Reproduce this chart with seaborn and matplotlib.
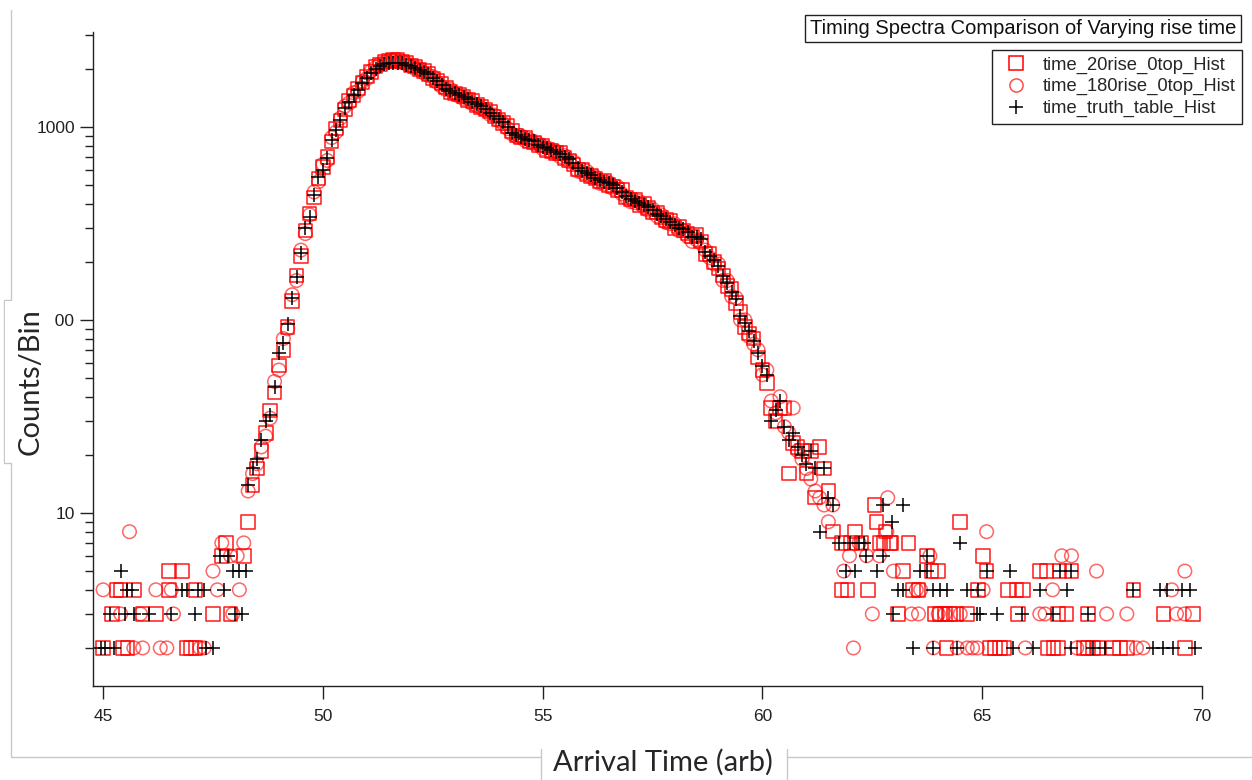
import matplotlib
matplotlib.use("Agg")
import numpy as np
import pandas as pd
import matplotlib.pyplot as plt
from matplotlib.lines import Line2D
from matplotlib.patches import Rectangle
from matplotlib.ticker import FixedLocator, LogLocator, NullFormatter, FuncFormatter
import seaborn as sns

# ---------------- data ----------------
bin_start = 48.3
bin_width = 0.1

# dense part of the spectrum, one value per 0.1 bin from 48.3 to 61.6
truth_counts = [
    14, 17, 19, 24, 30, 32, 45, 67, 76, 95,
    130, 167, 222, 300, 340, 445, 550, 600, 690, 860,
    965, 1090, 1250, 1350, 1470, 1550, 1690, 1800, 1900, 2000,
    2060, 2110, 2140, 2150, 2140, 2130, 2100, 2060, 2020, 1970,
    1930, 1870, 1800, 1720, 1650, 1570, 1540, 1500, 1460, 1420,
    1390, 1340, 1310, 1280, 1240, 1180, 1140, 1100, 1060, 1000,
    930, 910, 890, 870, 855, 840, 810, 790, 775, 760,
    740, 720, 700, 680, 650, 610, 590, 575, 560, 545,
    530, 520, 510, 500, 480, 460, 440, 425, 415, 405,
    395, 385, 370, 355, 345, 335, 320, 310, 300, 295,
    285, 268, 268, 262, 225, 215, 205, 190, 168, 155,
    140, 128, 105, 96, 88, 78, 67, 58, 52, 30,
    34, 38, 28, 24, 26, 22, 20, 18, 21, 17,
    8, 17, 12, 11,
]
rise20_counts = [
    9, 14, 17, 21, 26, 34, 42, 58, 70, 92,
    125, 170, 215, 290, 355, 430, 540, 620, 700, 840,
    980, 1080, 1230, 1370, 1450, 1580, 1700, 1820, 1930, 2050,
    2100, 2180, 2200, 2220, 2230, 2180, 2150, 2080, 2050, 1980,
    1950, 1880, 1780, 1740, 1680, 1600, 1520, 1490, 1470, 1440,
    1380, 1360, 1300, 1270, 1230, 1200, 1130, 1090, 1050, 1010,
    950, 900, 880, 880, 840, 830, 800, 800, 760, 750,
    730, 730, 690, 670, 640, 600, 600, 565, 555, 540,
    520, 525, 500, 490, 470, 470, 430, 420, 420, 395,
    400, 380, 360, 360, 340, 330, 325, 300, 305, 290,
    280, 270, 275, 255, 220, 220, 200, 185, 170, 150,
    145, 122, 110, 92, 85, 80, 64, 55, 47, 35,
    30, 35, 35, 16, 23, 22, 21, 16, 21, 12,
    22, 17, 13, 8,
]
rise180_counts = [
    13, 16, 18, 22, 25, 31, 48, 55, 80, 90,
    135, 160, 230, 280, 350, 460, 520, 640, 670, 880,
    940, 1110, 1280, 1330, 1500, 1530, 1720, 1780, 1950, 2030,
    2120, 2150, 2180, 2200, 2170, 2190, 2120, 2090, 2000, 2000,
    1900, 1850, 1820, 1700, 1620, 1560, 1560, 1480, 1440, 1400,
    1400, 1320, 1290, 1250, 1220, 1160, 1150, 1080, 1040, 980,
    920, 890, 900, 850, 860, 820, 820, 770, 780, 740,
    750, 700, 710, 660, 660, 590, 580, 590, 550, 550,
    510, 505, 515, 480, 490, 450, 430, 410, 405, 410,
    385, 370, 375, 345, 350, 320, 315, 315, 290, 290,
    270, 255, 260, 250, 230, 210, 195, 195, 160, 160,
    132, 130, 100, 100, 82, 75, 70, 52, 55, 38,
    33, 40, 28, 26, 35, 21, 19, 17, 15, 13,
    12, 11, 9, 11,
]

# sparse tails: low counts, scattered bins
truth_tail_x = [
    44.95, 45.05, 45.25, 47.35, 47.5,
    45.15, 45.5, 45.7, 46.05, 46.55, 47.1, 48.0, 48.15,
    45.55, 45.65, 46.8, 46.9, 47.15, 47.3, 47.75,
    45.4, 47.95, 48.1, 48.25, 47.65, 47.85,
    61.75, 61.9, 62.0, 62.1, 62.2, 62.3, 62.35, 62.6, 62.75, 62.75,
    62.95, 62.98, 63.09, 63.2, 63.2, 63.42, 63.58, 63.74, 63.74, 63.89,
    63.89, 64.04, 64.19, 64.43, 64.5, 64.65, 64.87, 64.91, 64.95, 65.1,
    65.33, 65.63, 65.71, 65.9, 66.16, 66.31, 66.62, 66.76, 66.92, 67.03,
    67.03, 67.41, 67.52, 67.8, 68.44, 68.89, 69.05, 69.12, 69.2, 69.34,
    69.54, 69.73, 69.84,
]
truth_tail_y = [
    2, 2, 2, 2, 2,
    3, 3, 3, 3, 3, 3, 3, 3,
    4, 4, 4, 4, 4, 4, 4,
    5, 5, 5, 5, 6, 6,
    7, 5, 7, 5, 7, 7, 6, 5, 11, 6,
    9, 3, 4, 4, 11, 2, 5, 5, 6, 2,
    4, 4, 4, 2, 7, 4, 3, 4, 3, 5,
    3, 5, 2, 3, 2, 4, 3, 5, 4, 2,
    5, 3, 2, 2, 4, 2, 4, 2, 4, 2,
    4, 4, 2,
]
rise20_tail_x = [
    45.0, 45.45, 45.55, 46.9, 47.0, 47.1,
    45.2, 45.9, 46.2, 47.5, 47.9,
    45.3, 45.4, 45.7, 46.5, 47.1,
    46.5, 46.8, 47.7, 48.2, 47.8,
    61.8, 61.93, 61.8, 62.0, 62.1, 62.25, 62.4, 62.55, 62.6, 62.67,
    62.75, 62.8, 62.9, 62.94, 63.09, 63.2, 63.32, 63.42, 63.55, 63.74,
    63.85, 63.93, 64.0, 64.04, 64.15, 64.19, 64.27, 64.4, 64.5, 64.65,
    64.91, 65.02, 65.1, 65.18, 65.29, 65.4, 65.5, 65.59, 65.78, 65.82,
    65.93, 66.31, 66.46, 66.5, 66.62, 66.73, 66.73, 66.76, 66.92, 67.03,
    67.3, 67.41, 67.41, 67.52, 67.64, 67.98, 68.13, 68.29, 68.44, 69.12,
    69.61, 69.8,
]
rise20_tail_y = [
    2, 2, 2, 2, 2, 2,
    3, 3, 3, 3, 3,
    4, 4, 4, 4, 4,
    5, 5, 6, 6, 7,
    4, 4, 7, 7, 8, 7, 4, 11, 9, 7,
    7, 8, 7, 7, 3, 5, 7, 4, 4, 6,
    5, 3, 5, 3, 3, 2, 3, 3, 9, 3,
    4, 6, 5, 2, 2, 2, 2, 4, 4, 3,
    4, 5, 5, 2, 2, 2, 3, 5, 3, 5,
    2, 2, 3, 2, 2, 2, 2, 2, 4, 3,
    2, 3,
]
rise180_tail_x = [
    45.7, 45.9, 46.3, 46.45, 47.2, 47.3,
    45.4, 45.85, 46.6, 47.95,
    45.0, 46.2, 46.55, 47.6, 48.1,
    47.5, 47.9, 48.05, 47.7, 48.2, 45.6,
    61.85, 61.98, 62.07, 62.2, 62.37, 62.5, 62.66, 62.83, 62.85, 62.98,
    63.39, 63.5, 63.55, 63.6, 63.81, 63.89, 64.0, 64.15, 64.43, 64.5,
    64.66, 64.78, 64.89, 65.02, 65.1, 65.98, 66.31, 66.43, 66.6, 66.81,
    67.03, 67.15, 67.6, 67.83, 68.29, 68.51, 68.66, 69.31, 69.42, 69.6,
    69.61,
]
rise180_tail_y = [
    2, 2, 2, 2, 2, 2,
    3, 3, 3, 3,
    4, 4, 4, 4, 4,
    5, 6, 6, 7, 7, 8,
    5, 6, 2, 7, 6, 3, 6, 8, 12, 5,
    3, 4, 3, 4, 6, 2, 3, 3, 2, 3,
    2, 2, 2, 4, 8, 2, 3, 3, 4, 6,
    6, 2, 5, 3, 3, 2, 2, 4, 3, 3,
    5,
]

series_names = ["time_20rise_0top_Hist", "time_180rise_0top_Hist", "time_truth_table_Hist"]
main_counts = [rise20_counts, rise180_counts, truth_counts]
tails_x = [rise20_tail_x, rise180_tail_x, truth_tail_x]
tails_y = [rise20_tail_y, rise180_tail_y, truth_tail_y]

frames = []
for name, counts, tx, ty in zip(series_names, main_counts, tails_x, tails_y):
    grid = np.round(bin_start + bin_width * np.arange(len(counts)), 2)
    frames.append(pd.DataFrame({"time": list(tx) + list(grid),
                                "counts": list(ty) + list(counts),
                                "series": name}))
df = pd.concat(frames, ignore_index=True)

# ---------------- figure ----------------
W, H = 1252, 780
sns.set_style("ticks")
plt.rcParams["font.family"] = ["Liberation Sans", "DejaVu Sans"]

fig = plt.figure(figsize=(W / 100, H / 100), dpi=100)
ax = fig.add_axes([93 / W, 1 - 686 / H, (1202 - 93) / W, (686 - 32) / H])

styles = {
    "time_20rise_0top_Hist": dict(marker="s", color="red", facecolor="none",
                                  edgecolor="red", linewidth=1.1, alpha=0.9),
    "time_180rise_0top_Hist": dict(marker="o", color="red", facecolor="none",
                                   edgecolor="red", linewidth=1.1, alpha=0.6),
    "time_truth_table_Hist": dict(marker="+", color="black", linewidth=1.1),
}
for name in series_names:
    sub = df[df["series"] == name]
    sns.scatterplot(data=sub, x="time", y="counts", s=95, ax=ax,
                    legend=False, zorder=3, **styles[name])

ax.set_yscale("log")
ax.set_xlim(44.77, 70.0)
ax.set_ylim(1.27, 3100)
ax.set_xlabel("")
ax.set_ylabel("")
sns.despine(ax=ax)
for sp in ["left", "bottom"]:
    ax.spines[sp].set_color("#222222")
    ax.spines[sp].set_linewidth(1.0)

ax.xaxis.set_major_locator(FixedLocator([45, 50, 55, 60, 65, 70]))
ax.yaxis.set_major_locator(FixedLocator([10, 100, 1000]))
ax.yaxis.set_major_formatter(FuncFormatter(lambda v, p: f"{v:g}"))
ax.yaxis.set_minor_locator(LogLocator(base=10, subs=np.arange(2, 10)))
ax.yaxis.set_minor_formatter(NullFormatter())
ax.tick_params(axis="both", which="major", direction="out", length=9.5,
               width=1, color="#222222", labelsize=12.5, labelcolor="#222222")
ax.tick_params(axis="x", pad=7)
ax.tick_params(axis="y", pad=3.5)
ax.tick_params(axis="y", which="minor", direction="out", length=5.8,
               width=1, color="#222222")

# legend and its title box
handles = [
    Line2D([], [], marker="s", linestyle="none", markersize=9.5,
           markerfacecolor="none", markeredgecolor="red", markeredgewidth=1.1),
    Line2D([], [], marker="o", linestyle="none", markersize=9.5,
           markerfacecolor="none", markeredgecolor="red", markeredgewidth=1.1, alpha=0.7),
    Line2D([], [], marker="+", linestyle="none", markersize=9.5,
           color="black", markeredgewidth=1.1),
]
leg = ax.legend(handles, series_names, loc="upper right",
                bbox_to_anchor=(1242 / W, 1 - 50 / H), bbox_transform=fig.transFigure,
                frameon=True, fancybox=False, framealpha=1, edgecolor="#222222",
                borderaxespad=0, borderpad=0.35, labelspacing=0.25,
                handlelength=1.9, handletextpad=0.5, fontsize=13.2)
leg.get_frame().set_linewidth(1.0)

fig.text(1023 / W, 1 - 28.5 / H, "Timing Spectra Comparison of Varying rise time",
         ha="center", va="center", fontsize=14.5, color="#111111",
         bbox=dict(boxstyle="square,pad=0.22", fc="white", ec="#222222", lw=1.0))

# slide frame lines with the axis label boxes
gray = "#c8c8c8"
def fig_line(xs, ys):
    fig.add_artist(Line2D([x / W for x in xs], [1 - y / H for y in ys],
                          color=gray, lw=1.0, transform=fig.transFigure, zorder=4))

fig_line([11, 11, 4, 4, 11, 11, 541], [10, 300, 300, 463, 463, 757, 757])
fig_line([541, 541], [749, 780])
fig_line([787, 787], [749, 780])
fig_line([787, 1252], [757, 757])

fig.add_artist(Rectangle((5 / W, 1 - 462 / H), (55 - 5) / W, (462 - 301) / H,
                         transform=fig.transFigure, fc="white", ec="none", zorder=5))

fig.text(31 / W, 1 - 382 / H, "Counts/Bin", rotation=90, ha="center", va="center",
         fontsize=21, family=["Lato", "DejaVu Sans"], zorder=6)
fig.text(663 / W, 1 - 762 / H, "Arrival Time (arb)", ha="center", va="center",
         fontsize=21, family=["Lato", "DejaVu Sans"], zorder=6)

fig.savefig("out.png", dpi=100, facecolor="white")
